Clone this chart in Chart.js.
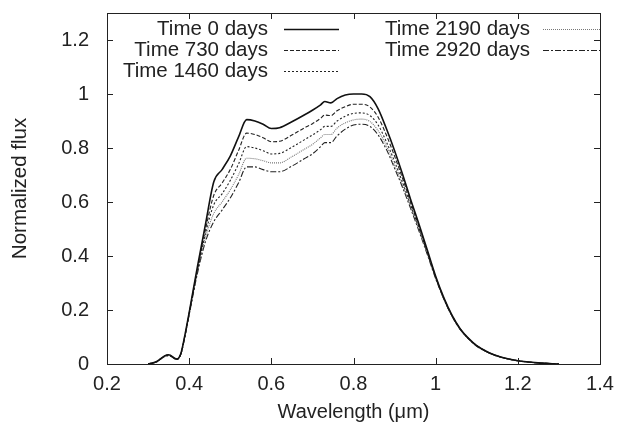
<!DOCTYPE html>
<html>
<head>
<meta charset="utf-8">
<script src="https://cdn.jsdelivr.net/npm/chart.js@4.4.0/dist/chart.umd.min.js"></script>
<style>
  body { margin: 0; background: #fff; }
  #wrap { width: 617px; height: 427px; }
</style>
</head>
<body>
<div id="wrap"><canvas id="spec" width="617" height="427"></canvas></div>
<script>
// wavelength grid (micron)
var wavelength = [0.30,0.32,0.34,0.35,0.37,0.38,0.39,0.40,
  0.42,0.44,0.46,0.48,0.50, 0.52,0.54,0.56,0.58,0.60,
  0.62,0.65,0.68,0.70,0.72, 0.73,0.745,0.76,0.78,0.80,
  0.82,0.84,0.86,0.88,0.90, 0.92,0.94,0.96,0.98,1.00,
  1.02,1.04,1.06,1.08,1.10, 1.13,1.16,1.20,1.25,1.30];

var flux0 = [0,0.008,0.03,0.034,0.018,0.04,0.11,0.19,
  0.36,0.52,0.675,0.72,0.77, 0.84,0.905,0.9,0.888,0.872,
  0.875,0.897,0.922,0.94,0.96, 0.972,0.967,0.983,0.996,1.0,
  1.0,0.99,0.945,0.872,0.79, 0.70,0.605,0.515,0.42,0.325,
  0.245,0.18,0.13,0.095,0.068, 0.042,0.025,0.012,0.004,0];

var flux730 = [0,0.008,0.029,0.033,0.018,0.039,0.108,0.188,
  0.35,0.50,0.625,0.67,0.72, 0.79,0.855,0.85,0.838,0.823,
  0.825,0.848,0.874,0.89,0.91, 0.922,0.92,0.938,0.953,0.962,
  0.962,0.952,0.914,0.848,0.77, 0.685,0.595,0.508,0.415,0.322,
  0.243,0.179,0.129,0.094,0.068, 0.042,0.025,0.012,0.004,0];

var flux1460 = [0,0.008,0.028,0.032,0.017,0.038,0.106,0.186,
  0.345,0.485,0.59,0.63,0.68, 0.74,0.805,0.80,0.79,0.778,
  0.78,0.803,0.83,0.848,0.868, 0.88,0.88,0.9,0.918,0.928,
  0.93,0.92,0.885,0.823,0.75, 0.67,0.585,0.5,0.41,0.32,
  0.242,0.178,0.128,0.094,0.067, 0.041,0.025,0.012,0.004,0];

var flux2190 = [0,0.008,0.028,0.032,0.017,0.038,0.105,0.184,
  0.34,0.47,0.558,0.6,0.645, 0.7,0.762,0.76,0.753,0.745,
  0.745,0.768,0.795,0.813,0.838, 0.85,0.85,0.874,0.893,0.904,
  0.907,0.898,0.864,0.808,0.735, 0.66,0.578,0.495,0.407,0.318,
  0.241,0.177,0.128,0.093,0.067, 0.041,0.025,0.012,0.004,0];

var flux2920 = [0,0.008,0.027,0.031,0.017,0.037,0.104,0.182,
  0.335,0.455,0.527,0.57,0.615, 0.67,0.73,0.73,0.72,0.712,
  0.712,0.733,0.76,0.778,0.805, 0.82,0.82,0.845,0.87,0.885,
  0.888,0.88,0.848,0.795,0.725, 0.652,0.572,0.49,0.404,0.316,
  0.24,0.176,0.127,0.093,0.066, 0.041,0.025,0.012,0.004,0];

var labels = ['Time 0 days','Time 730 days','Time 1460 days','Time 2190 days','Time 2920 days'];
var xTicks = [0.2,0.4,0.6,0.8,1,1.2,1.4];
var yTicks = [0,0.2,0.4,0.6,0.8,1,1.2];

var FONT = '"Liberation Sans", Arial, sans-serif';

function pts(vals){
  return vals.map(function(v,i){ return {x: wavelength[i], y: v}; });
}

function ds(label, vals, dash, color, w){
  return {
    label: label, data: pts(vals),
    borderColor: color, borderWidth: w, borderDash: dash,
    pointRadius: 0, fill: false, tension: 0,
    cubicInterpolationMode: 'monotone'
  };
}

// gnuplot style frame, inward ticks and key
var frame = {
  id: 'frame',
  afterDatasetsDraw: function(chart){
    var c = chart.ctx, a = chart.chartArea;
    var xs = chart.scales.x, ys = chart.scales.y;
    c.save();
    c.strokeStyle = '#222';
    c.lineWidth = 1;
    c.setLineDash([]);
    c.beginPath();
    xTicks.forEach(function(v){
      var px = Math.round(xs.getPixelForValue(v)) + 0.5;
      c.moveTo(px, a.bottom); c.lineTo(px, a.bottom - 6);
      c.moveTo(px, a.top); c.lineTo(px, a.top + 6);
    });
    yTicks.forEach(function(v){
      var py = Math.round(ys.getPixelForValue(v)) + 0.5;
      c.moveTo(a.left, py); c.lineTo(a.left + 6, py);
      c.moveTo(a.right, py); c.lineTo(a.right - 6, py);
    });
    c.stroke();
    c.strokeRect(Math.round(a.left)+0.5, Math.round(a.top)+0.5,
                 Math.round(a.right-a.left), Math.round(a.bottom-a.top));

    // key
    var cols = [{tx: 268, x0: 284, x1: 339}, {tx: 530, x0: 543, x1: 600}];
    var rows = [29, 50, 71];
    c.font = '20.5px ' + FONT;
    c.textAlign = 'right';
    c.textBaseline = 'middle';
    chart.data.datasets.forEach(function(d, i){
      var col = cols[i < 3 ? 0 : 1], y = rows[i < 3 ? i : i - 3];
      c.fillStyle = '#222';
      c.fillText(d.label, col.tx, y);
      c.strokeStyle = d.borderColor;
      c.lineWidth = d.borderWidth;
      c.setLineDash(d.borderDash || []);
      c.beginPath();
      c.moveTo(col.x0, y + 0.5); c.lineTo(col.x1, y + 0.5);
      c.stroke();
    });
    c.restore();
  }
};

var ctx = document.getElementById('spec');
var chart = new Chart(ctx, {
  type: 'line',
  data: {
    datasets: [
      ds(labels[0], flux0, [], '#111', 1.6),
      ds(labels[1], flux730, [4,2], '#222', 1.1),
      ds(labels[2], flux1460, [2,2], '#222', 1.1),
      ds(labels[3], flux2190, [1,1], '#777', 1.1),
      ds(labels[4], flux2920, [6,2,2,2], '#222', 1.1)
    ]
  },
  options: {
    responsive: false,
    animation: false,
    layout: { padding: { left: 0, right: 17, top: 13, bottom: 0 } },
    plugins: { legend: { display: false }, tooltip: { enabled: false } },
    scales: {
      x: {
        type: 'linear', min: 0.2, max: 1.4,
        afterBuildTicks: function(s){ s.ticks = xTicks.map(function(v){ return {value: v}; }); },
        afterFit: function(s){ s.height = 63; s.paddingLeft = 0; s.paddingRight = 0; },
        grid: { display: false, drawTicks: false },
        border: { display: false },
        ticks: { color: '#222', font: { family: FONT, size: 20 }, padding: 8,
                 maxRotation: 0, callback: function(v){ return String(+v.toFixed(1)); } },
        title: { display: true, text: 'Wavelength (\u03bcm)', color: '#222',
                 font: { family: FONT, size: 20 }, padding: { top: 0, bottom: 3 } }
      },
      y: {
        type: 'linear', min: 0, max: 1.3,
        afterBuildTicks: function(s){ s.ticks = yTicks.map(function(v){ return {value: v}; }); },
        afterFit: function(s){ s.width = 107; s.paddingTop = 0; s.paddingBottom = 0; },
        grid: { display: false, drawTicks: false },
        border: { display: false },
        ticks: { color: '#222', font: { family: FONT, size: 20 }, padding: 18,
                 callback: function(v){ return String(+v.toFixed(1)); } },
        title: { display: true, text: 'Normalized flux', color: '#222',
                 font: { family: FONT, size: 20.5 }, padding: { top: 8, bottom: 0 } }
      }
    }
  },
  plugins: [frame]
});
</script>
</body>
</html>
